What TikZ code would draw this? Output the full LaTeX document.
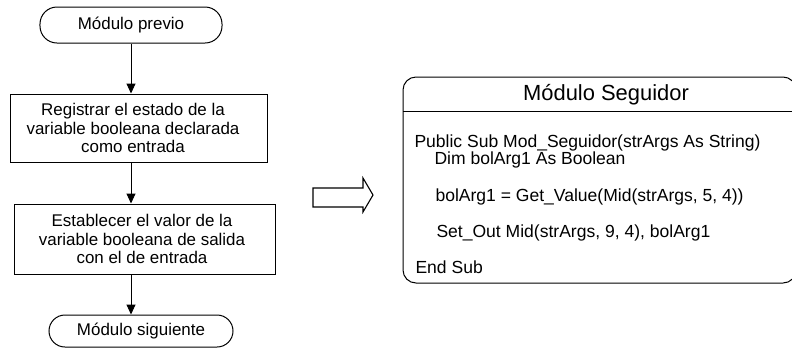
\documentclass[tikz,border=0pt]{standalone}
\usepackage{fontspec}
\setmainfont{Liberation Sans}
\usetikzlibrary{arrows.meta}
\begin{document}
\begin{tikzpicture}[x=1bp,y=-1bp,line width=1bp,
  flowtext/.style={font=\fontsize{17}{18.5}\selectfont},
  term/.style={draw,inner sep=0,flowtext},
  procbox/.style={draw,inner sep=0},
  boxtext/.style={align=center,inner sep=0,flowtext},
  flow/.style={-{Triangle[length=10bp,width=9bp]}},
  codeline/.style={anchor=base west,inner sep=0,font=\fontsize{17.6}{20}\selectfont},
  hollow/.style={draw,line width=1.1bp,line join=miter}]
\useasboundingbox (0,0) rectangle (792,349);

% flowchart on the left
\node[term,rounded corners=17bp,minimum width=182bp,minimum height=36bp] (t1) at (131,25) {Módulo previo};
\node[procbox,minimum width=256bp,minimum height=68bp] (b1) at (139,128) {};
\node[boxtext] (b1t) at ([xshift=-6bp]b1.center)
  {Registrar el estado de la\\variable booleana declarada\\como entrada};
\node[procbox,minimum width=260bp,minimum height=70bp] (b2) at (145,239) {};
\node[boxtext] (b2t) at ([xshift=-3bp]b2.center)
  {Establecer el valor de la\\variable booleana de salida\\con el de entrada};
\node[term,rounded corners=16bp,minimum width=184bp,minimum height=32bp] (t2) at (141,331) {Módulo siguiente};

\draw[flow] (t1.south) -- (t1.south |- b1.north);
\draw[flow] (t1.south |- b1.south) -- (t1.south |- b2.north);
\draw[flow] (t1.south |- b2.south) -- (t1.south |- t2.north);

% hollow block arrow
\draw[hollow] (313,188) -- (363,188) -- (363,178) -- (373,195) -- (363,212)
  -- (363,207) -- (313,207) -- cycle;

% module panel on the right
\draw[rounded corners=13bp] (403,111) -- (403,77) -- (796,77) -- (796,283) -- (403,283) -- cycle;
\draw (403,111) -- (796,111);
\node[font=\fontsize{22}{24}\selectfont,inner sep=0] (title) at (606,95) {Módulo Seguidor};

\node[codeline] (c1) at (414,147) {Public Sub Mod\_Seguidor(strArgs As String)};
\node[codeline] (c2) at (434,164) {Dim bolArg1 As Boolean};
\node[codeline] (c3) at (435,201) {bolArg1 = Get\_Value(Mid(strArgs, 5, 4))};
\node[codeline] (c4) at (436,237) {Set\_Out Mid(strArgs, 9, 4), bolArg1};
\node[codeline] (c5) at (415,273) {End Sub};
\end{tikzpicture}
\end{document}
